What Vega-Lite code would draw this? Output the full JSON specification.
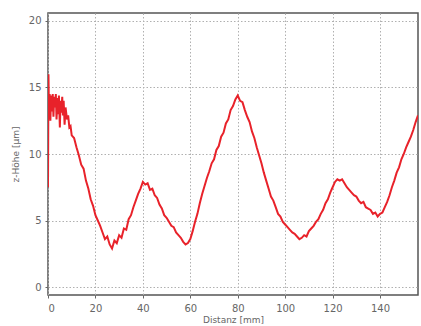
{
  "$schema": "https://vega.github.io/schema/vega-lite/v6.json",
  "width": 370,
  "height": 282,
  "autosize": "none",
  "padding": {"left": 48, "top": 13, "right": 3, "bottom": 31},
  "background": "white",
  "config": {
    "view": {"stroke": "#555", "strokeWidth": 1.5},
    "axis": {
      "labelFont": "DejaVu Sans",
      "titleFont": "DejaVu Sans",
      "labelColor": "#666",
      "titleColor": "#666",
      "labelFontSize": 10,
      "titleFontSize": 9,
      "titleFontWeight": "normal",
      "domain": false,
      "tickColor": "#666",
      "tickSize": 3,
      "gridColor": "#b0b0b0",
      "gridDash": [1.5, 2],
      "gridWidth": 1
    }
  },
  "data": {"values": [
    {"d":0,"z":7.5},{"d":0.2,"z":16},{"d":0.4,"z":13},{"d":0.7,"z":14.5},{"d":1,"z":12.5},{"d":1.3,"z":14.4},{"d":1.6,"z":13.2},{"d":2,"z":14.5},{"d":2.3,"z":12.8},{"d":2.6,"z":14.3},{"d":3,"z":13.5},{"d":3.3,"z":14.5},{"d":3.6,"z":12.6},{"d":4,"z":14.2},{"d":4.3,"z":13},{"d":4.6,"z":14.4},{"d":5,"z":12},{"d":5.3,"z":14},{"d":5.6,"z":13.1},{"d":6,"z":14.3},{"d":6.3,"z":12.9},{"d":6.6,"z":14},{"d":7,"z":12.2},{"d":7.4,"z":13.5},{"d":8,"z":12.6},{"d":8.5,"z":12.9},{"d":9,"z":12},{"d":9.5,"z":12.1},
    {"d":10,"z":11.4},{"d":11,"z":11.2},{"d":12,"z":10.5},{"d":13,"z":9.9},{"d":14,"z":9.2},{"d":15,"z":8.9},{"d":16,"z":8},{"d":17,"z":7.4},{"d":18,"z":6.6},{"d":19,"z":6.1},
    {"d":20,"z":5.4},{"d":21,"z":5.0},{"d":22,"z":4.6},{"d":23,"z":4.1},{"d":24,"z":3.6},{"d":25,"z":3.8},{"d":26,"z":3.2},{"d":27,"z":2.9},{"d":28,"z":3.5},{"d":29,"z":3.3},
    {"d":30,"z":3.9},{"d":31,"z":3.7},{"d":32,"z":4.4},{"d":33,"z":4.3},{"d":34,"z":5.1},{"d":35,"z":5.4},{"d":36,"z":6.0},{"d":37,"z":6.5},{"d":38,"z":7.0},{"d":39,"z":7.4},
    {"d":40,"z":7.9},{"d":41,"z":7.7},{"d":42,"z":7.8},{"d":43,"z":7.3},{"d":44,"z":7.4},{"d":45,"z":6.9},{"d":46,"z":6.7},{"d":47,"z":6.2},{"d":48,"z":5.9},{"d":49,"z":5.4},
    {"d":50,"z":5.2},{"d":51,"z":4.9},{"d":52,"z":4.6},{"d":53,"z":4.5},{"d":54,"z":4.1},{"d":55,"z":3.9},{"d":56,"z":3.7},{"d":57,"z":3.4},{"d":58,"z":3.2},{"d":59,"z":3.3},
    {"d":60,"z":3.6},{"d":61,"z":4.2},{"d":62,"z":4.9},{"d":63,"z":5.5},{"d":64,"z":6.3},{"d":65,"z":7.0},{"d":66,"z":7.6},{"d":67,"z":8.2},{"d":68,"z":8.7},{"d":69,"z":9.3},
    {"d":70,"z":9.6},{"d":71,"z":10.3},{"d":72,"z":10.6},{"d":73,"z":11.3},{"d":74,"z":11.6},{"d":75,"z":12.3},{"d":76,"z":12.6},{"d":77,"z":13.3},{"d":78,"z":13.6},{"d":79,"z":14.1},
    {"d":80,"z":14.4},{"d":81,"z":14.0},{"d":82,"z":13.9},{"d":83,"z":13.3},{"d":84,"z":12.8},{"d":85,"z":12.4},{"d":86,"z":11.7},{"d":87,"z":11.2},{"d":88,"z":10.5},{"d":89,"z":9.9},
    {"d":90,"z":9.3},{"d":91,"z":8.6},{"d":92,"z":8.0},{"d":93,"z":7.4},{"d":94,"z":6.8},{"d":95,"z":6.5},{"d":96,"z":6.0},{"d":97,"z":5.5},{"d":98,"z":5.3},{"d":99,"z":4.9},
    {"d":100,"z":4.7},{"d":101,"z":4.5},{"d":102,"z":4.3},{"d":103,"z":4.1},{"d":104,"z":4.0},{"d":105,"z":3.8},{"d":106,"z":3.6},{"d":107,"z":3.7},{"d":108,"z":3.9},{"d":109,"z":3.8},
    {"d":110,"z":4.2},{"d":111,"z":4.4},{"d":112,"z":4.6},{"d":113,"z":4.9},{"d":114,"z":5.1},{"d":115,"z":5.5},{"d":116,"z":5.8},{"d":117,"z":6.3},{"d":118,"z":6.6},{"d":119,"z":7.1},
    {"d":120,"z":7.5},{"d":121,"z":7.9},{"d":122,"z":8.1},{"d":123,"z":8.0},{"d":124,"z":8.1},{"d":125,"z":7.8},{"d":126,"z":7.5},{"d":127,"z":7.3},{"d":128,"z":7.1},{"d":129,"z":6.9},
    {"d":130,"z":6.8},{"d":131,"z":6.5},{"d":132,"z":6.3},{"d":133,"z":6.4},{"d":134,"z":6.0},{"d":135,"z":5.9},{"d":136,"z":5.8},{"d":137,"z":5.5},{"d":138,"z":5.6},{"d":139,"z":5.3},
    {"d":140,"z":5.5},{"d":141,"z":5.6},{"d":142,"z":6.0},{"d":143,"z":6.4},{"d":144,"z":6.9},{"d":145,"z":7.5},{"d":146,"z":8.0},{"d":147,"z":8.6},{"d":148,"z":9.0},{"d":149,"z":9.6},
    {"d":150,"z":10.0},{"d":151,"z":10.5},{"d":152,"z":10.9},{"d":153,"z":11.3},{"d":154,"z":11.8},{"d":155,"z":12.4},{"d":156,"z":12.9}
  ]},
  "mark": {"type": "line", "color": "#e8222a", "strokeWidth": 2, "clip": true},
  "encoding": {
    "x": {
      "field": "d", "type": "quantitative",
      "scale": {"domain": [0, 156], "nice": false},
      "axis": {"values": [0, 20, 40, 60, 80, 100, 120, 140], "title": "Distanz [mm]", "titlePadding": 2, "labelPadding": 5}
    },
    "y": {
      "field": "z", "type": "quantitative",
      "scale": {"domain": [-0.6, 20.6], "nice": false, "zero": false},
      "axis": {"values": [0, 5, 10, 15, 20], "title": "z-Höhe [µm]", "titlePadding": 8, "labelPadding": 4}
    }
  }
}
